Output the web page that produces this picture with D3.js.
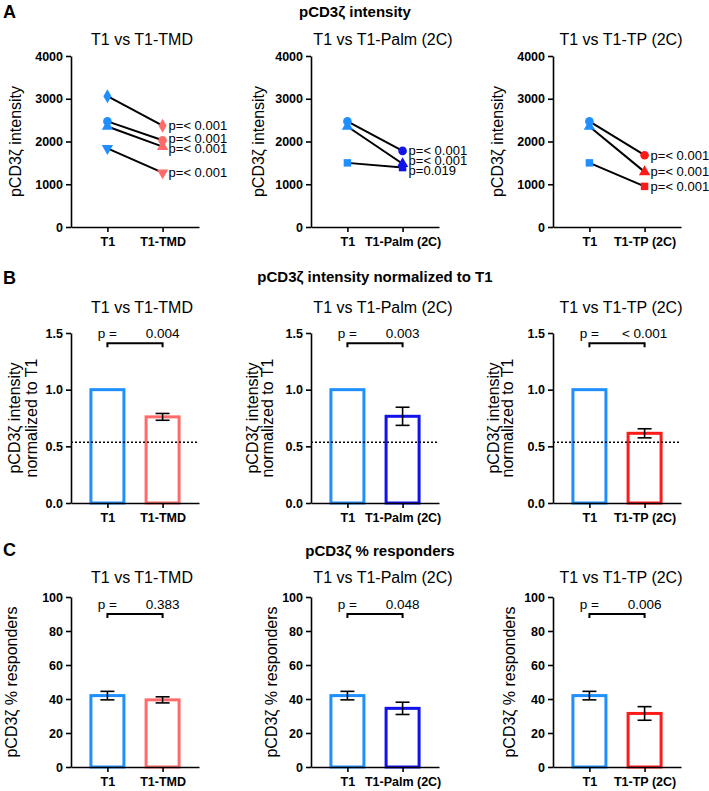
<!DOCTYPE html>
<html>
<head>
<meta charset="utf-8">
<script src="https://cdn.jsdelivr.net/npm/d3@7"></script>
<style>
  body { margin: 0; background: #fff; }
  text { font-family: Arial, "Liberation Sans", Helvetica, sans-serif; fill: #000; }
</style>
</head>
<body>
<script>
// ---- data ----
const comparisons = ['T1 vs T1-TMD', 'T1 vs T1-Palm (2C)', 'T1 vs T1-TP (2C)'];
const categories = [['T1', 'T1-TMD'], ['T1', 'T1-Palm (2C)'], ['T1', 'T1-TP (2C)']];
const t1Color = '#1f8fff';
const treatColors = ['#ff6b6b', '#1212ea', '#ff1a1a'];

// A - paired intensities, one marker shape per experiment
const intensityShapes = [['diamond', 'circle', 'triangle', 'triangleDown'], ['circle', 'triangle', 'square'], ['circle', 'triangle', 'square']];
const intensityT1 = [[3060, 2470, 2350, 1840], [2470, 2350, 1500], [2470, 2350, 1500]];
const intensityTreat = [[2370, 2030, 1880, 1270], [1780, 1480, 1390], [1680, 1290, 950]];
const intensityP = [['p=< 0.001', 'p=< 0.001', 'p=< 0.001', 'p=< 0.001'],
                    ['p=< 0.001', 'p=< 0.001', 'p=0.019'],
                    ['p=< 0.001', 'p=< 0.001', 'p=< 0.001']];
const intensityTicks = [0, 1000, 2000, 3000, 4000];

// B - intensity normalized to T1
const normMean = [[1, 0.76], [1, 0.765], [1, 0.615]];
const normSem = [[0, 0.03], [0, 0.08], [0, 0.04]];
const normP = ['0.004', '0.003', '< 0.001'];
const normThreshold = 0.535;
const normTicks = [0, 0.5, 1.0, 1.5];

// C - % responders
const respMean = [[42, 39.5], [42, 34.5], [42, 31.5]];
const respSem = [[2.5, 1.8], [2.5, 3.6], [2.5, 4]];
const respP = ['0.383', '0.048', '0.006'];
const respTicks = [0, 20, 40, 60, 80, 100];

// ---- layout ----
const width = 709, height = 791;
const colX = [71, 311, 553], axisLen = 128;
const titleX = [142, 383, 621];

const svg = d3.select('body').append('svg')
              .attr('width', width)
              .attr('height', height);

const symbolFor = {
  circle: d3.symbolCircle, diamond: d3.symbolDiamond, triangle: d3.symbolTriangle,
  triangleDown: d3.symbolTriangle, square: d3.symbolSquare
};

function drawAxes(g, x, y, ticks, fmt, bottom) {
  const yAxis = g.append('g')
                 .attr('transform', `translate(${x.range()[0]},0)`)
                 .call(d3.axisLeft(y).tickValues(ticks).tickFormat(fmt).tickSize(5).tickSizeOuter(0));
  const xAxis = g.append('g')
                 .attr('transform', `translate(0,${bottom})`)
                 .call(d3.axisBottom(x).tickSize(5).tickSizeOuter(0));
  [yAxis, xAxis].forEach(function(a) {
    a.selectAll('path, line').attr('stroke', '#000').attr('stroke-width', 1.6);
    a.selectAll('text').style('font-size', '12.5px').style('font-weight', 'bold').attr('fill', '#000');
  });
  yAxis.selectAll('text').attr('x', -8);
  xAxis.selectAll('text').attr('y', 10);
}

function yLabel(g, lines, cx, cy, offsets) {
  lines.forEach(function(line, i) {
    g.append('text')
     .attr('transform', `translate(${cx + offsets[i]},${cy}) rotate(-90)`)
     .attr('text-anchor', 'middle')
     .attr('dominant-baseline', 'central')
     .style('font-size', '16px')
     .text(line);
  });
}

function panelHeader(letter, lx, ly, title, tx, ty) {
  svg.append('text').attr('x', lx).attr('y', ly)
     .style('font-size', '18px').style('font-weight', 'bold').text(letter);
  svg.append('text').attr('x', tx).attr('y', ty).attr('text-anchor', 'middle')
     .style('font-size', '15px').style('font-weight', 'bold').text(title);
}

// ---- A: paired intensities ----
panelHeader('A', 3, 18, 'pCD3ζ intensity', 355, 17);
const rowA = { top: 56, bottom: 227, title: 45 };
comparisons.forEach(function(name, c) {
  const g = svg.append('g');
  const x = d3.scalePoint().domain(categories[c]).range([colX[c], colX[c] + axisLen]).padding(0.66);
  const y = d3.scaleLinear().domain([0, 4000]).range([rowA.bottom, rowA.top]);

  g.append('text').attr('x', titleX[c]).attr('y', rowA.title).attr('text-anchor', 'middle')
   .style('font-size', '16px').text(name);

  const pts = intensityT1[c].map(function(v, i) {
    return { shape: intensityShapes[c][i], t1: v, tr: intensityTreat[c][i], p: intensityP[c][i] };
  });

  g.selectAll('line.pair').data(pts).enter().append('line')
   .attr('x1', x(categories[c][0])).attr('x2', x(categories[c][1]))
   .attr('y1', function(d) { return y(d.t1); })
   .attr('y2', function(d) { return y(d.tr); })
   .attr('stroke', '#000').attr('stroke-width', 2);

  [['t1', t1Color, 0], ['tr', treatColors[c], 1]].forEach(function(s) {
    g.selectAll(null).data(pts).enter().append('path')
     .attr('d', function(d) { return d3.symbol(symbolFor[d.shape], d.shape === 'circle' ? 58 : 56)(); })
     .attr('transform', function(d) {
       return `translate(${x(categories[c][s[2]])},${y(d[s[0]])})` + (d.shape === 'triangleDown' ? ' rotate(180)' : '');
     })
     .attr('fill', s[1]);
  });

  // spread p labels so they don't sit fully on top of each other
  const labels = pts.map(function(d) { return { p: d.p, y: y(d.tr) }; }).sort(function(a, b) { return a.y - b.y; });
  for (let k = 0; k < 20; k++) {
    for (let i = 1; i < labels.length; i++) {
      const gap = labels[i].y - labels[i - 1].y;
      if (gap < 10) {
        labels[i].y += (10 - gap) / 2;
        labels[i - 1].y -= (10 - gap) / 2;
      }
    }
  }
  g.selectAll('text.p').data(labels).enter().append('text')
   .attr('x', x(categories[c][1]) + 6)
   .attr('y', function(d) { return d.y; })
   .attr('dominant-baseline', 'central')
   .style('font-size', '13px')
   .text(function(d) { return d.p; });

  drawAxes(g, x, y, intensityTicks, d3.format('d'), rowA.bottom);
  yLabel(g, ['pCD3ζ intensity'], colX[c], (rowA.top + rowA.bottom) / 2, [c === 1 ? -53 : -56]);
});

// ---- bar panels (B and C) ----
function barPanel(row, means, sems, pvals, ticks, fmt, bracketVal, labelLines, labelOffsets, threshold) {
  comparisons.forEach(function(name, c) {
    const g = svg.append('g');
    const x = d3.scalePoint().domain(categories[c]).range([colX[c], colX[c] + axisLen]).padding(0.66);
    const y = d3.scaleLinear().domain([0, ticks[ticks.length - 1]]).range([row.bottom, row.top]);
    const colors = [t1Color, treatColors[c]];

    g.append('text').attr('x', titleX[c]).attr('y', row.title).attr('text-anchor', 'middle')
     .style('font-size', '16px').text(name);

    const bars = categories[c].map(function(cat, i) {
      return { cat: cat, mean: means[c][i], sem: sems[c][i], color: colors[i] };
    });

    g.selectAll('rect').data(bars).enter().append('rect')
     .attr('x', function(d) { return x(d.cat) - 16.5; })
     .attr('width', 33)
     .attr('y', function(d) { return y(d.mean); })
     .attr('height', function(d) { return y(0) - y(d.mean); })
     .attr('fill', '#fff')
     .attr('stroke', function(d) { return d.color; })
     .attr('stroke-width', 3);

    const err = bars.filter(function(d) { return d.sem > 0; });
    g.selectAll('line.err').data(err).enter().append('line')
     .attr('x1', function(d) { return x(d.cat); }).attr('x2', function(d) { return x(d.cat); })
     .attr('y1', function(d) { return y(d.mean - d.sem); })
     .attr('y2', function(d) { return y(d.mean + d.sem); })
     .attr('stroke', '#000').attr('stroke-width', 1.6);
    ['-', '+'].forEach(function(sign) {
      g.selectAll(null).data(err).enter().append('line')
       .attr('x1', function(d) { return x(d.cat) - 7; }).attr('x2', function(d) { return x(d.cat) + 7; })
       .attr('y1', function(d) { return y(sign === '+' ? d.mean + d.sem : d.mean - d.sem); })
       .attr('y2', function(d) { return y(sign === '+' ? d.mean + d.sem : d.mean - d.sem); })
       .attr('stroke', '#000').attr('stroke-width', 1.6);
    });

    if (threshold !== undefined) {
      g.append('line')
       .attr('x1', colX[c]).attr('x2', colX[c] + axisLen)
       .attr('y1', y(threshold)).attr('y2', y(threshold))
       .attr('stroke', '#000').attr('stroke-width', 1.5).attr('stroke-dasharray', '2,2');
    }

    // significance bracket
    const by = y(bracketVal), x1 = x(categories[c][0]), x2 = x(categories[c][1]);
    g.append('path')
     .attr('d', `M${x1},${by + 4}V${by}H${x2}V${by + 4}`)
     .attr('fill', 'none').attr('stroke', '#000').attr('stroke-width', 2);
    g.append('text').attr('x', x1).attr('y', by - 5).attr('text-anchor', 'middle')
     .style('font-size', '13.5px').text('p =');
    g.append('text').attr('x', x2).attr('y', by - 5).attr('text-anchor', 'middle')
     .style('font-size', '13.5px').text(pvals[c]);

    drawAxes(g, x, y, ticks, fmt, row.bottom);
    yLabel(g, labelLines, colX[c], (row.top + row.bottom) / 2, labelOffsets[c]);
  });
}

panelHeader('B', 3, 284, 'pCD3ζ intensity normalized to T1', 375, 282);
barPanel({ top: 333, bottom: 503, title: 313 }, normMean, normSem, normP, normTicks, d3.format('.1f'), 1.41,
         ['pCD3ζ intensity', 'normalized to T1'], [[-57, -40], [-59, -44], [-60, -46]], normThreshold);

panelHeader('C', 3, 556, 'pCD3ζ  % responders', 380, 556);
barPanel({ top: 597, bottom: 767, title: 583 }, respMean, respSem, respP, respTicks, d3.format('d'), 90,
         ['pCD3ζ  % responders'], [[-60], [-40], [-44]]);
</script>
</body>
</html>
